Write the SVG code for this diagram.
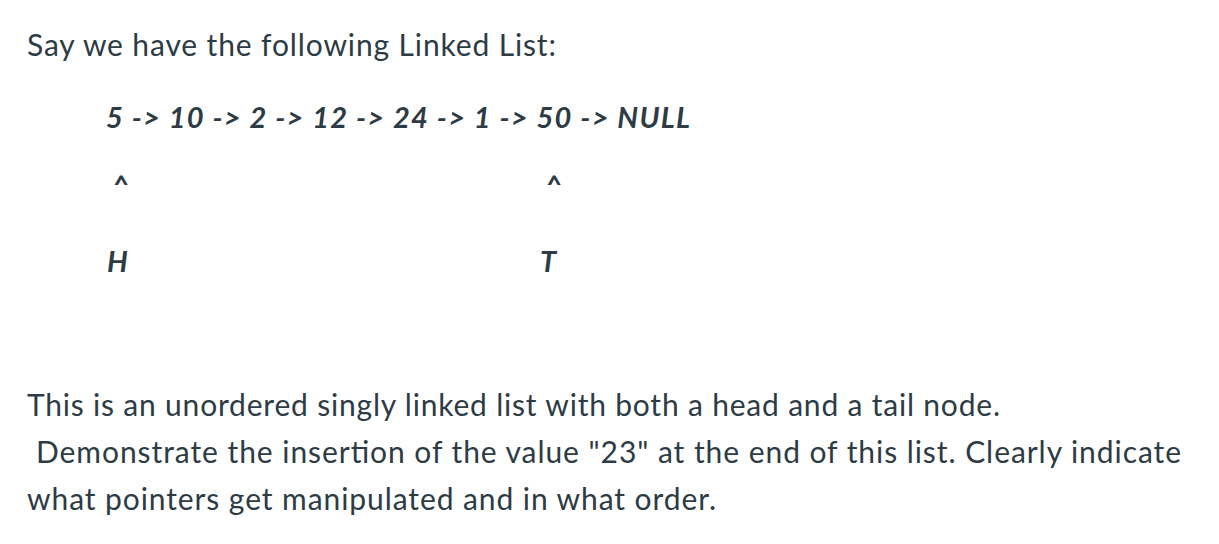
<svg xmlns="http://www.w3.org/2000/svg" width="1219" height="544" viewBox="0 0 1219 544" xml:space="preserve">
<style>
text{font-family:Lato,"Liberation Sans",sans-serif;fill:#2d3b45;font-size:30px}
.c{font-weight:bold;font-style:italic;font-size:29px}
</style>
<rect width="1219" height="544" fill="#fff"/>
<g id="intro"><text x="27" y="56" textLength="529" lengthAdjust="spacing">Say we have the following Linked List:</text></g>
<g id="list"><text class="c" x="106" y="128" textLength="584" lengthAdjust="spacing">5 -&gt; 10 -&gt; 2 -&gt; 12 -&gt; 24 -&gt; 1 -&gt; 50 -&gt; NULL</text></g>
<g id="head"><text class="c" x="112" y="196">^</text><text class="c" x="107" y="272">H</text></g>
<g id="tail"><text class="c" x="545" y="196">^</text><text class="c" x="540" y="272">T</text></g>
<g id="connectors"></g>
<g id="question">
<text x="27" y="416" textLength="973" lengthAdjust="spacing">This is an unordered singly linked list with both a head and a tail node.</text>
<text x="36" y="463" textLength="1145" lengthAdjust="spacing">Demonstrate the insertion of the value "23" at the end of this list.  Clearly indicate</text>
<text x="27" y="510" textLength="689" lengthAdjust="spacing">what pointers get manipulated and in what order.</text>
</g>
</svg>
